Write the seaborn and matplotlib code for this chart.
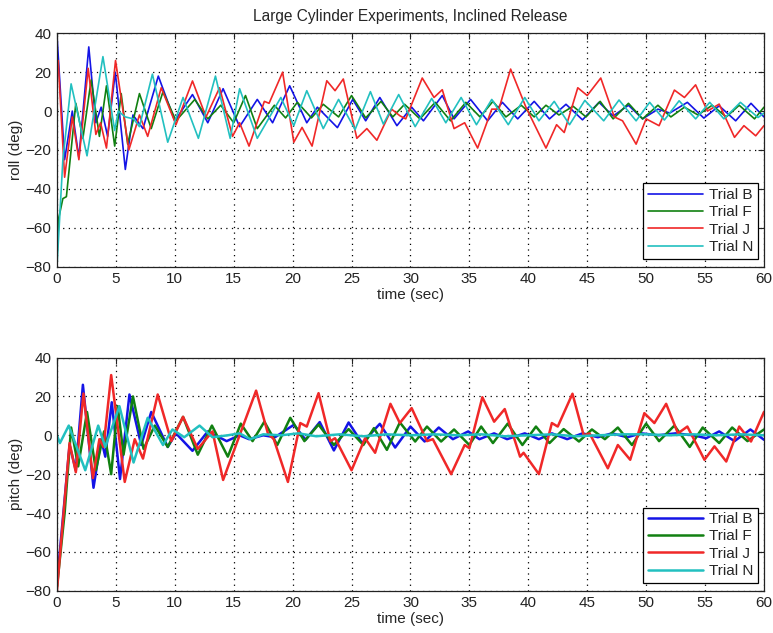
import matplotlib
matplotlib.use("Agg")
import matplotlib.pyplot as plt
import seaborn as sns
import pandas as pd

# ---------------- data ----------------
trials = ["Trial B", "Trial F", "Trial J", "Trial N"]
colors = ["#1414e6", "#118011", "#f02828", "#22c0c0"]
x_ticks = list(range(0, 61, 5))
y_ticks = list(range(-80, 41, 20))

# roll
roll_B_t = [0, 0.65, 1.3, 1.86, 2.7, 3.3, 3.75, 4.3, 4.95, 5.8,
            6.45, 7.3, 8.6, 10.0, 11.5, 12.8, 14.1, 15.5, 17.0, 18.3,
            19.75, 21.2, 22.1, 23.8, 25.1, 26.2, 27.4, 28.85, 30.1, 31.1,
            32.7, 33.7, 35.1, 36.55, 37.8, 39.1, 40.5, 41.8, 43.2, 44.6,
            46.0, 47.2, 48.5, 49.7, 51.0, 52.0, 53.5, 54.9, 56.2, 57.6,
            58.9, 60.0]
roll_B_v = [39, -25, 0, -24, 33, -6, 2, -13, 20, -30,
            -2, -9, 18, -5, 8.5, -6, 11.5, -8, 6, -6,
            13, -6, 2, -8.5, 6, -5, 7, -7.5, 2, -5,
            8, -4, 6, -5, 4.5, -4, 5, -4, 3.5, -4.5,
            4.5, -2.5, 3, -4, 1, -1, 4.5, -3.6, 2.7, -5,
            4, -3]

roll_F_t = [0, 0.15, 0.5, 0.8, 1.6, 2.2, 2.9, 3.6, 4.2, 4.9,
            5.45, 6.0, 7.0, 8.0, 9.0, 10.1, 11.7, 12.8, 13.9, 15.0,
            16.0, 17.0, 18.45, 19.4, 20.4, 21.6, 22.6, 23.9, 25.0, 26.2,
            27.5, 28.5, 29.5, 30.8, 32.1, 33.4, 34.7, 35.9, 37.0, 38.1,
            39.4, 40.5, 41.5, 42.6, 43.8, 44.9, 46.1, 47.2, 48.5, 49.7,
            51.0, 52.1, 53.25, 54.4, 55.6, 56.8, 57.9, 59.2, 60.0]
roll_F_v = [-75, -55, -45, -44, 4, -14, 16, -13, 13, -18,
            9, -17, 9, -9, 10, -5, 6, -4, 3, -6,
            8, -9, 3, -3.5, 4.5, -3.5, 3.5, -3, 8, -3.5,
            5, -3, 3.5, -4, 4.5, -5, 4.5, -3, 5, -3,
            3, -3, 3, -2, 2.5, -3, 5, -4, 4, -4,
            3, -3, 2, -2, 3, -3, 3, -4, 2]

roll_J_t = [0, 0.1, 0.65, 1.3, 1.86, 2.65, 3.3, 3.7, 4.2, 4.97,
            6.1, 7.0, 7.7, 8.85, 10.1, 11.5, 12.65, 13.8, 14.9, 15.5,
            16.3, 17.6, 18.0, 19.15, 20.1, 20.8, 21.65, 22.9, 23.6, 24.3,
            25.45, 26.3, 27.15, 28.4, 29.1, 29.6, 31.0, 32.0, 32.7, 33.7,
            34.6, 35.7, 36.9, 37.5, 38.5, 39.8, 41.5, 42.4, 43.05, 44.2,
            45.0, 46.15, 47.3, 48.0, 49.15, 50.0, 51.1, 52.4, 53.25, 54.2,
            55.2, 56.2, 57.5, 58.3, 59.3, 60.0]
roll_J_v = [25, 26, -34, -3, -25, 22, -12, -6, -19, 26,
            -20, -2, -13, 12, -7, 15.5, -3, 12, -13, -6,
            -18, 5, 4, 20, -16, -8.4, -18, 15.6, 10.5, 16.5,
            -14, -9, -15, 1, -2.4, -4, 17, 7, 11, -9,
            -6, -19, 1, 1, 21.6, 2, -19, -7, -11, 12,
            8, 17, -3, -5, -17, -4, -7.5, 10.8, 7, 13.5,
            0, 3.6, -13.5, -7.5, -12.7, -7.5]

roll_N_t = [0, 0.5, 1.2, 2.55, 3.9, 4.9, 5.2, 5.8, 6.5, 7.0,
            8.1, 9.4, 10.7, 12.0, 13.45, 14.7, 15.5, 17.0, 19.0, 20.1,
            21.2, 22.6, 23.9, 25.3, 26.6, 27.7, 29.0, 30.4, 31.8, 33.0,
            34.3, 35.6, 36.9, 38.3, 39.7, 40.9, 42.2, 43.5, 44.8, 46.4,
            47.7, 49.15, 50.3, 51.55, 52.8, 54.2, 55.4, 56.6, 58.0, 59.5,
            60.0]
roll_N_v = [-80, -25, 14, -23, 28, -10, 0, -3, -4, -8,
            19, -16, 7, -14, 18, -14, 11.5, -14, 7, -7.5,
            10.5, -9, 6, -9.5, 10, -6.7, 8.5, -8, 6.5, -6,
            7, -7, 6, -7, 7, -5, 5, -7, 5.5, -5,
            5.7, -5, 4.5, -4.6, 5.3, -4, 4.5, -4, 4.5, -3.3,
            -1]

# pitch
pitch_B_t = [0, 1.07, 1.6, 2.2, 3.1, 3.75, 4.1, 4.65, 5.35, 6.15,
             7.15, 8.0, 9.4, 10.1, 11.5, 12.8, 14.4, 15.5, 16.3, 17.5,
             18.5, 20.1, 21.1, 22.3, 23.5, 24.75, 25.9, 27.4, 28.7, 30.0,
             31.2, 32.4, 33.6, 34.9, 35.85, 37.1, 38.2, 39.7, 40.9, 42.0,
             43.3, 44.6, 45.9, 47.1, 48.4, 49.6, 51.0, 52.5, 54.0, 55.1,
             56.2, 57.5, 58.85, 60.0]
pitch_B_v = [-76, -5, -18, 26, -27, -2, -11, 17, -22.5, 21,
             -5, 12, -6, 1, -8, 2, -3, 0, -2, 0,
             -1, 5.4, -2.3, 6.8, -7.8, 6.6, -4, 5.9, -6.3, 4.5,
             -3.2, 4, -2, 2, -2, 1, -2, 1, -2, 1,
             -2, 1, -1, 1, -1, 1, 0, 1, 0, -1.5,
             2, -3, 3, -2.3]

pitch_F_t = [0, 0.65, 1.2, 1.8, 2.55, 3.3, 4.0, 4.6, 5.15, 5.65,
             6.45, 7.35, 8.3, 9.4, 10.7, 11.95, 13.15, 14.5, 15.6, 16.6,
             17.6, 18.7, 19.8, 21.0, 22.2, 23.5, 24.75, 26.0, 26.9, 28.0,
             29.1, 30.4, 31.4, 32.6, 33.7, 35.0, 36.0, 37.0, 38.25, 39.5,
             40.65, 41.8, 43.0, 44.3, 45.4, 46.5, 47.6, 48.8, 50.0, 51.1,
             52.4, 53.7, 54.8, 56.2, 57.3, 58.6, 60.0]
pitch_F_v = [-78, -40, 4, -16, 12, -18, 2, -20, 15, -10,
             20, -7, 5, -6, 9.5, -10, 5, -11, 6, -3,
             7, -5, 9, -3, 5.5, -5, 3.2, -5, 3.7, -7.5,
             6.6, -3.2, 4.5, -3.2, 3, -5, 4.5, -4, 6, -5,
             4.5, -4, 3.2, -3.2, 3, -2, 4, -5, 6, -3,
             5, -6, 4, -4, 4, -3, 3]

pitch_J_t = [0, 1.07, 1.6, 2.25, 3.05, 3.6, 3.95, 4.6, 5.75, 6.6,
             7.3, 8.55, 9.7, 10.7, 11.95, 13.2, 14.1, 16.9, 17.9, 18.4,
             19.6, 20.65, 21.2, 22.2, 23.2, 23.6, 25.0, 26.15, 27.0, 28.3,
             29.1, 30.1, 31.4, 31.9, 33.45, 34.6, 35.0, 36.1, 37.1, 38.0,
             39.3, 39.6, 40.9, 42.0, 42.5, 43.75, 44.7, 45.2, 46.75, 47.6,
             48.65, 49.85, 50.7, 51.7, 52.7, 53.5, 54.95, 55.8, 56.8, 57.9,
             58.9, 60.0]
pitch_J_v = [-80, -4, -19, 21.5, -22, -2, -6, 31, -24, -2,
             -12, 21, -3, 9.5, -7, 2, -23, 23, 1, -2,
             -24, 6.3, 4.5, 21.7, -3, -1.5, -18, -1.5, -9, 16.2,
             6.3, 14, -3, -2, -20, -5, -6.6, 19.6, 7, 13.5,
             -11, -9, -20, 6.3, 4.5, 21.4, 0, 1, -17, -5,
             -12.6, 11.4, 6.3, 16.2, 1, 4.5, -12.6, -5.7, -13.5, 4.5,
             -3.2, 12]

pitch_N_t = [0, 0.25, 1.0, 2.4, 3.5, 4.1, 5.3, 6.5, 7.7, 9.0,
             9.8, 10.8, 12.1, 13.2, 14.5, 15.5, 16.4, 17.5, 19.0, 20.5,
             22.0, 24.0, 26.0, 28.0, 30.0, 32.0, 34.0, 36.0, 38.0, 40.0,
             42.0, 44.0, 46.0, 48.0, 50.0, 52.0, 54.0, 56.0, 58.0, 60.0]
pitch_N_v = [0, -4, 5, -18, 5, -6, 15, -14, 9, -5,
             3, -1, 5, -1, 0, 1, -2, 0.5, 0, 1,
             -0.5, 0.5, -0.5, 0.5, 0, 0.5, 0, 0.5, -0.5, 0,
             0.5, -0.5, 0, 0.5, 0.5, 0, 0.5, 0, 0.5, 0]

title_text = "Large Cylinder Experiments, Inclined Release"
x_label = "time (sec)"
roll_label = "roll (deg)"
pitch_label = "pitch (deg)"


def long_frame(series):
    parts = []
    for name, (t, v) in zip(trials, series):
        parts.append(pd.DataFrame({"t": t, "v": v, "trial": name}))
    return pd.concat(parts, ignore_index=True)


roll_df = long_frame([(roll_B_t, roll_B_v), (roll_F_t, roll_F_v),
                      (roll_J_t, roll_J_v), (roll_N_t, roll_N_v)])
pitch_df = long_frame([(pitch_B_t, pitch_B_v), (pitch_F_t, pitch_F_v),
                       (pitch_J_t, pitch_J_v), (pitch_N_t, pitch_N_v)])

# ---------------- style ----------------
sns.set_theme(style="white")
plt.rcParams["font.family"] = ["Liberation Sans", "DejaVu Sans"]
plt.rcParams["axes.edgecolor"] = "#222222"
plt.rcParams["axes.linewidth"] = 0.9

fig = plt.figure(figsize=(7.73, 6.33), dpi=100)
ax1 = fig.add_axes([0.0737, 0.5787, 0.9146, 0.3687])
ax2 = fig.add_axes([0.0737, 0.0668, 0.9146, 0.3683])

palette = dict(zip(trials, colors))

for ax, df, lw, ylab in [(ax1, roll_df, 1.2, roll_label),
                         (ax2, pitch_df, 1.8, pitch_label)]:
    sns.lineplot(data=df, x="t", y="v", hue="trial", hue_order=trials,
                 palette=palette, estimator=None, sort=False,
                 linewidth=lw, legend=False, ax=ax)
    for ln in ax.get_lines():
        ln.set_solid_joinstyle("round")
    ax.set_xlim(0, 60)
    ax.set_ylim(-80, 40)
    ax.set_xticks(x_ticks)
    ax.set_yticks(y_ticks)
    ax.tick_params(direction="in", top=True, right=True, length=4,
                   width=0.8, labelsize=11, colors="#222222", pad=4)
    ax.grid(True, linestyle=(0, (1, 3.5)), color="black", linewidth=0.9)
    ax.set_axisbelow(True)
    ax.set_xlabel(x_label, fontsize=11, labelpad=1)
    ax.set_ylabel(ylab, fontsize=11, labelpad=2)
    for s in ax.spines.values():
        s.set_visible(True)
        s.set_color("#222222")
    handles = ax.get_lines()[:4]
    leg = ax.legend(handles, trials, loc="lower right",
                    bbox_to_anchor=(0.991, 0.034), borderaxespad=0,
                    fontsize=11, frameon=True, fancybox=False,
                    edgecolor="black", framealpha=1, handlelength=3.6,
                    handletextpad=0.4, labelspacing=0.22, borderpad=0.3)
    leg.get_frame().set_linewidth(0.9)

ax1.set_title(title_text, fontsize=11.2, pad=9)

fig.savefig("out.png", dpi=100, facecolor="white")
